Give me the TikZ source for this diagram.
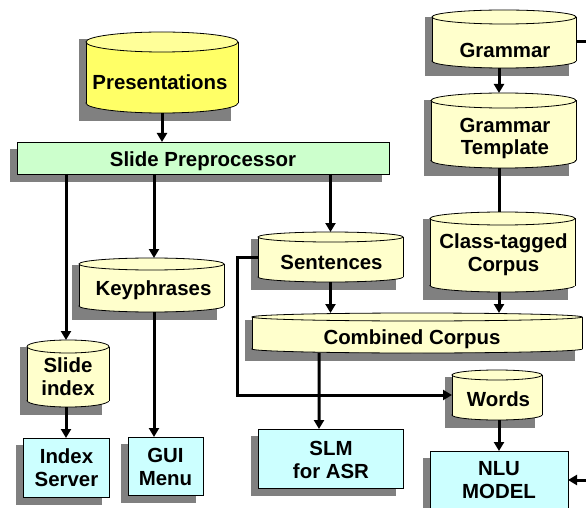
\documentclass[tikz,border=0pt]{standalone}
\usepackage{fontspec}
\setmainfont{Liberation Sans}
\usetikzlibrary{arrows.meta}
\definecolor{shd}{HTML}{808080}
\definecolor{plainbody}{HTML}{FFFFCC}
\definecolor{plaintop}{HTML}{FFFFCC}
\definecolor{presbody}{HTML}{FFFF66}
\definecolor{prestop}{HTML}{FFFF99}
\definecolor{boxfill}{HTML}{CCFFFF}
\definecolor{ppfill}{HTML}{CCFFCC}
\tikzset{
  outline/.style={draw=black, line width=0.8bp},
  lbl/.style={font=\fontsize{20.5}{23}\selectfont\bfseries, align=center, inner sep=0pt},
  conn/.style={line width=3bp, -{Triangle[length=9bp,width=10bp]}},
  plainline/.style={line width=3bp},
}
% name x1 y1 x2 y2 ry colourprefix labelpos text
\newcommand\dbcyl[9]{%
  \pgfmathsetmacro\cx{(#2+#4)/2}%
  \pgfmathsetmacro\rx{(#4-#2)/2}%
  \fill[shd] (#2-7,#3+7) rectangle (#4-7,#5+8);
  \filldraw[outline, fill=#7body] (\cx,#5-#6) ellipse [x radius=\rx, y radius=#6];
  \fill[#7body] (#2,#3+#6) rectangle (#4,#5-#6);
  \draw[outline] (#2,#3+#6) -- (#2,#5-#6) (#4,#3+#6) -- (#4,#5-#6);
  \filldraw[outline, fill=#7top] (\cx,#3+#6) ellipse [x radius=\rx, y radius=#6];
  \node[inner sep=0pt, outer sep=0pt, minimum width={(#4-#2)*1bp}, minimum height={(#5-#3)*1bp}] (#1) at (\cx,{(#3+#5)/2}) {};
  \node[lbl] (#1-t) at (#8) {#9};
}
% name x1 y1 x2 y2 fill labelpos text
\newcommand\procbox[8]{%
  \fill[shd] (#2-7,#3+7) rectangle (#4-7,#5+8);
  \node[outline, fill=#6, inner sep=0pt, outer sep=0pt, minimum width={(#4-#2)*1bp}, minimum height={(#5-#3)*1bp}] (#1) at ({(#2+#4)/2},{(#3+#5)/2}) {};
  \node[lbl] (#1-t) at (#7) {#8};
}
\begin{document}
\begin{tikzpicture}[x=1bp, y=-1bp]
\useasboundingbox (0,0) rectangle (586,508);
\fill[white] (0,0) rectangle (586,508);
\begin{scope}
\clip (0,0) rectangle (586,508);
% cylinders
\dbcyl{pres}{86}{32}{238}{113}{10}{pres}{160,82}{Presentations}
\dbcyl{gram}{432}{10}{576}{68}{7}{plain}{505,50}{Grammar}
\dbcyl{gtpl}{431}{93}{576}{168}{7.5}{plain}{505,138.5}{Grammar\\Template}
\dbcyl{ctc}{430}{212}{575}{292}{6.5}{plain}{503.5,255}{Class-tagged\\Corpus}
\dbcyl{sent}{258}{232}{403}{282}{5}{plain}{331.5,262}{Sentences}
\dbcyl{kp}{79}{258}{224}{312}{6}{plain}{153.5,290.5}{Keyphrases}
\dbcyl{sidx}{27}{340}{109}{407}{6.5}{plain}{68,377}{Slide\\index}
\dbcyl{comb}{252}{313}{582}{353}{4}{plain}{412,339}{Combined Corpus}
\dbcyl{words}{452}{370}{542}{420}{5}{plain}{498.5,399}{Words}
% boxes
\procbox{pp}{17}{142}{389}{174}{ppfill}{203,161}{Slide Preprocessor}
\procbox{isrv}{23}{438}{109}{497}{boxfill}{66.5,468}{Index\\Server}
\procbox{gui}{128}{437}{203}{495}{boxfill}{165.5,467}{GUI\\Menu}
\procbox{slm}{258}{429}{403}{488}{boxfill}{331,460}{SLM\\for ASR}
\procbox{nlu}{430}{451}{568}{509}{boxfill}{499,480}{NLU\\MODEL}
% connectors
\draw[conn] (pres.south) -- (pres.south |- pp.north);
\draw[conn] (pp.south -| isrv.north) -- (sidx.north -| isrv.north);
\draw[conn] ([xshift=2.5bp]kp.north |- pp.south) -- ([xshift=2.5bp]kp.north);
\draw[conn] (sent.north |- pp.south) -- (sent.north);
\draw[conn] (sidx.south -| isrv.north) -- (isrv.north);
\draw[conn] ([xshift=2.5bp]kp.south) -- ([xshift=2.5bp]kp.south |- gui.north);
\draw[conn] (gram.south -| nlu.north) -- (gtpl.north -| nlu.north);
\draw[plainline] (gtpl.south -| nlu.north) -- (ctc.north -| nlu.north);
\draw[conn] (sent.south) -- (sent.south |- comb.north);
\draw[conn] (ctc.south -| nlu.north) -- (comb.north -| nlu.north);
\draw[conn] ([xshift=67bp]comb.south west) -- ([xshift=61bp]slm.north west);
\draw[conn] (sent.west) -- ++(-21,0) |- (words.west);
\draw[conn] (words.south -| nlu.north) -- (nlu.north);
\draw[conn] ([yshift=-3bp]gram.east) -- ++(30,0) |- (nlu.east);
\end{scope}
\end{tikzpicture}
\end{document}
